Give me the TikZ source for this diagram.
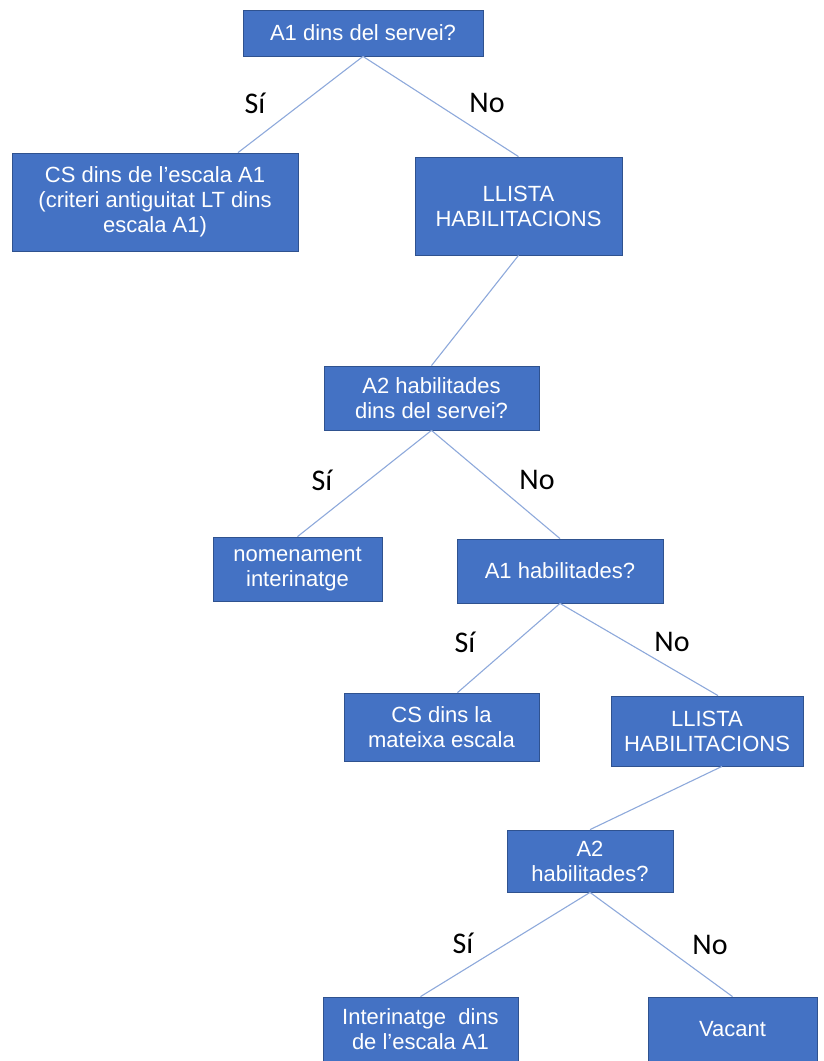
\documentclass[tikz,border=0pt]{standalone}
\usepackage{fontspec}
\setmainfont{Liberation Sans}
\newfontfamily\carlito{Carlito}
\definecolor{boxblue}{HTML}{4472C4}
\definecolor{boxedge}{HTML}{2F528F}
\definecolor{linkblue}{HTML}{8EA9DB}
\begin{document}
\begin{tikzpicture}[x=1pt,y=-1pt,
    box/.style={draw=boxedge, fill=boxblue, text=white, line width=0.8pt,
      inner sep=0pt, align=center, font=\fontsize{22}{25}\selectfont},
    link/.style={draw=linkblue, line width=1.1pt},
    answer/.style={font=\carlito\fontsize{30}{30}\selectfont}]
  \useasboundingbox (0,0) rectangle (823,1061);

  % boxes
  \node[box, minimum width=240, minimum height=46] (q1) at (363,33) {A1 dins del servei?};
  \node[box, minimum width=286, minimum height=98] (cs1) at (155,202)
    {CS dins de l'escala A1\\(criteri antiguitat LT dins\\escala A1)};
  \node[box, minimum width=207, minimum height=98] (llista1) at (518.5,206) {LLISTA\\HABILITACIONS};
  \node[box, minimum width=215, minimum height=64] (q2) at (431.5,398) {A2 habilitades\\dins del servei?};
  \node[box, minimum width=169, minimum height=64] (nomen) at (297.5,569) {nomenament\\interinatge};
  \node[box, minimum width=206, minimum height=64] (q3) at (560,571) {A1 habilitades?};
  \node[box, minimum width=195, minimum height=68] (cs2) at (441.5,727) {CS dins la\\mateixa escala};
  \node[box, minimum width=192, minimum height=70] (llista2) at (707,731) {LLISTA\\HABILITACIONS};
  \node[box, minimum width=166, minimum height=62] (q4) at (590,861) {A2\\habilitades?};
  \node[box, minimum width=195, minimum height=64] (interi) at (420.5,1029) {Interinatge~ dins\\de l'escala A1};
  \node[box, minimum width=169, minimum height=64] (vacant) at (732.5,1029) {Vacant};

  % connectors
  \draw[link] (q1.south) -- ([xshift=83]cs1.north);
  \draw[link] (q1.south) -- (llista1.north);
  \draw[link] (llista1.south) -- (q2.north);
  \draw[link] (q2.south) -- (nomen.north);
  \draw[link] (q2.south) -- (q3.north);
  \draw[link] (q3.south) -- ([xshift=16]cs2.north);
  \draw[link] (q3.south) -- ([xshift=11]llista2.north);
  \draw[link] ([xshift=15]llista2.south) -- (q4.north);
  \draw[link] (q4.south) -- (interi.north);
  \draw[link] (q4.south) -- (vacant.north);

  % answers
  \node[answer] (si1) at (255,103) {Sí};
  \node[answer] (no1) at (487,103) {No};
  \node[answer] (si2) at (322,480) {Sí};
  \node[answer] (no2) at (537,480) {No};
  \node[answer] (si3) at (465,642) {Sí};
  \node[answer] (no3) at (672,642) {No};
  \node[answer] (si4) at (463,943) {Sí};
  \node[answer] (no4) at (710,945) {No};
\end{tikzpicture}
\end{document}
